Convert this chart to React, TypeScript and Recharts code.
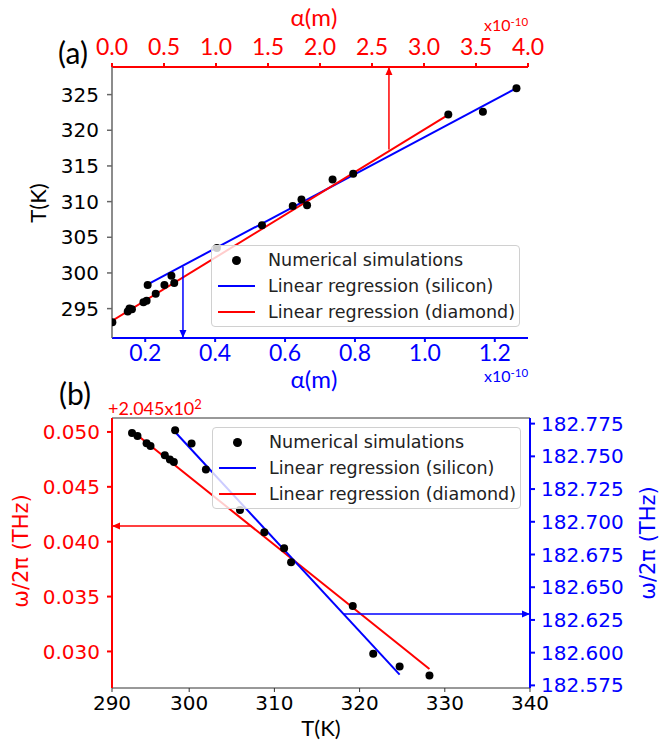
import {
  ComposedChart,
  Scatter,
  Line,
  XAxis,
  YAxis,
  Legend,
} from 'recharts'

// panel (a): alpha (x1e-10 m) vs temperature
const alphaSim = [0.106, 0.15, 0.155, 0.162, 0.195, 0.204, 0.207, 0.23, 0.255, 0.275, 0.283, 0.405, 0.534, 0.622, 0.647, 0.663, 0.736, 0.795, 1.067, 1.166, 1.262]
const tempSimA = [293.1, 294.6, 295.0, 294.9, 295.9, 296.1, 298.3, 297.1, 298.3, 299.6, 298.6, 303.5, 306.7, 309.4, 310.3, 309.5, 313.1, 313.9, 322.2, 322.6, 325.9]
const siliconFitAlpha = [0.207, 1.262]
const siliconFitTemp = [298.4, 325.9]
const diamondFitAlpha = [0.003, 3.236] // top axis
const diamondFitTemp = [293.3, 322.2]
const alphaTicksTop = [0, 0.5, 1, 1.5, 2, 2.5, 3, 3.5, 4]
const alphaTicksBottom = [0.2, 0.4, 0.6, 0.8, 1.0, 1.2]
const tempTicksA = [295, 300, 305, 310, 315, 320, 325]

// panel (b): temperature vs frequency
const tempSimB = [293.29, 293.93, 295.0, 295.46, 297.14, 297.73, 298.2, 298.35, 300.28, 301.96, 305.96, 308.82, 311.14, 311.96, 319.2, 321.6, 324.7, 328.2]
const freqSimB = [0.04991, 0.04964, 0.04897, 0.04873, 0.04788, 0.04749, 0.04727, 0.05015, 0.04895, 0.04658, 0.04288, 0.04085, 0.0394, 0.03813, 0.03415, 0.02979, 0.02864, 0.02782]
const diamondFitTempB = [293.3, 328.2]
const diamondFitFreq = [0.05009, 0.0284]
const siliconFitTempB = [298.35, 324.7]
const siliconFitFreq = [182.7686, 182.5832]
const tempTicksB = [290.94, 300, 310, 320, 330, 340]
const freqTicksLeft = [0.03, 0.035, 0.04, 0.045, 0.05]
const freqTicksRight = [182.575, 182.6, 182.625, 182.65, 182.675, 182.7, 182.725, 182.75, 182.775]

const BLUE = '#0000ff'
const RED = '#ff0000'
const DV = '"DejaVu Sans", Verdana, sans-serif'
const LT = '"Lato", sans-serif'

const pts = (xs: number[], ys: number[]) => xs.map((x, i) => ({ x, y: ys[i] }))

const arrowDot = (dir: 'up' | 'down' | 'left' | 'right', color: string) => (p: any) => {
  if (p.index !== 1) return <g key={`d${p.index}`} />
  const { cx, cy } = p
  const w = 3.5
  const l = 8
  let d = ''
  if (dir === 'up') d = `${cx},${cy} ${cx - w},${cy + l} ${cx + w},${cy + l}`
  if (dir === 'down') d = `${cx},${cy} ${cx - w},${cy - l} ${cx + w},${cy - l}`
  if (dir === 'left') d = `${cx},${cy} ${cx + l},${cy - w} ${cx + l},${cy + w}`
  if (dir === 'right') d = `${cx},${cy} ${cx - l},${cy - w} ${cx - l},${cy + w}`
  return <polygon key={`d${p.index}`} points={d} fill={color} />
}

const dotShape = (p: any) => <circle cx={p.cx} cy={p.cy} r={4} fill="#000" />

const LegendBox = () => (
  <div
    style={{
      width: 309,
      height: 82,
      boxSizing: 'border-box',
      border: '1px solid #d0d0d0',
      borderRadius: 4,
      background: 'rgba(255,255,255,0.8)',
      fontFamily: DV,
      fontSize: 17.5,
      color: '#222',
      position: 'relative',
    }}
  >
    {[
      { label: 'Numerical simulations', kind: 'dot' },
      { label: 'Linear regression (silicon)', kind: BLUE },
      { label: 'Linear regression (diamond)', kind: RED },
    ].map((r, i) => (
      <div key={r.label} style={{ position: 'absolute', left: 0, top: 14 + i * 26, width: '100%' }}>
        {r.kind === 'dot' ? (
          <div style={{ position: 'absolute', left: 20, top: -4, width: 9, height: 9, borderRadius: 5, background: '#000' }} />
        ) : (
          <div style={{ position: 'absolute', left: 6, top: -1, width: 37, height: 2, background: r.kind }} />
        )}
        <div style={{ position: 'absolute', left: 56, top: -11, lineHeight: '22px', whiteSpace: 'nowrap' }}>{r.label}</div>
      </div>
    ))}
  </div>
)

type TxtProps = { x: number; y: number; size: number; color?: string; font?: string; rotate?: boolean; children: any }
const Txt = ({ x, y, size, color = '#000', font = LT, rotate = false, children }: TxtProps) => (
  <div
    style={{
      position: 'absolute',
      left: x,
      top: y,
      transform: `translate(-50%,-50%)${rotate ? ' rotate(-90deg)' : ''}`,
      fontSize: size,
      color,
      fontFamily: font,
      whiteSpace: 'nowrap',
      lineHeight: 1,
    }}
  >
    {children}
  </div>
)

const Sup = ({ children }: { children: any }) => (
  <span style={{ fontSize: '0.72em', position: 'relative', top: '-0.45em' }}>{children}</span>
)

const App = () => {
  const simA = pts(alphaSim, tempSimA)
  const simB = pts(tempSimB, freqSimB)
  return (
    <div style={{ position: 'absolute', left: 0, top: 0, width: 659, height: 745, background: '#fff' }}>
      <div style={{ position: 'absolute', left: 0, top: 0 }}>
        <ComposedChart width={659} height={380} margin={{ top: 0, right: 131, bottom: 0, left: 0 }}>
          <XAxis
            xAxisId="top"
            orientation="top"
            type="number"
            dataKey="x"
            domain={[0, 4]}
            allowDataOverflow
            ticks={alphaTicksTop}
            interval={0}
            tickFormatter={(v: number) => v.toFixed(1)}
            height={67}
            stroke={RED}
            strokeWidth={2}
            tickSize={4}
            tickMargin={8}
            tick={{ fill: RED, fontSize: 23, fontFamily: LT }}
          />
          <XAxis
            xAxisId="bottom"
            type="number"
            dataKey="x"
            domain={[0.105, 1.295]}
            allowDataOverflow
            ticks={alphaTicksBottom}
            interval={0}
            tickFormatter={(v: number) => v.toFixed(1)}
            height={42}
            stroke={BLUE}
            strokeWidth={2}
            tickSize={4}
            tickMargin={3}
            tick={{ fill: BLUE, fontSize: 23, fontFamily: LT }}
          />
          <YAxis
            yAxisId="left"
            type="number"
            domain={[290.88, 328.87]}
            allowDataOverflow
            ticks={tempTicksA}
            interval={0}
            width={112}
            stroke="#666"
            strokeWidth={1.5}
            tickSize={5}
            tickMargin={8}
            tick={{ fill: '#000', fontSize: 20, fontFamily: DV }}
          />
          <YAxis yAxisId="frame" orientation="right" type="number" domain={[0, 1]} width={0} tick={false} tickLine={false} stroke="#666" strokeWidth={1.5} />
          <Line data={pts(siliconFitAlpha, siliconFitTemp)} dataKey="y" xAxisId="bottom" yAxisId="left" stroke={BLUE} strokeWidth={2} dot={false} activeDot={false} isAnimationActive={false} />
          <Line data={pts(diamondFitAlpha, diamondFitTemp)} dataKey="y" xAxisId="top" yAxisId="left" stroke={RED} strokeWidth={2} dot={false} activeDot={false} isAnimationActive={false} />
          <Scatter data={simA} dataKey="y" xAxisId="bottom" yAxisId="left" shape={dotShape} isAnimationActive={false} />
          <Line data={pts([2.663, 2.663], [317.3, 328.87])} dataKey="y" xAxisId="top" yAxisId="left" stroke={RED} strokeWidth={1.5} dot={arrowDot('up', RED)} activeDot={false} isAnimationActive={false} />
          <Line data={pts([0.308, 0.308], [300.9, 290.88])} dataKey="y" xAxisId="bottom" yAxisId="left" stroke={BLUE} strokeWidth={1.5} dot={arrowDot('down', BLUE)} activeDot={false} isAnimationActive={false} />
          <Legend verticalAlign="middle" layout="horizontal" content={() => <LegendBox />} wrapperStyle={{ left: 211, top: 245, width: 309 }} />
        </ComposedChart>
      </div>

      <div style={{ position: 'absolute', left: 0, top: 380 }}>
        <ComposedChart width={659} height={365} margin={{ top: 0, right: 0, bottom: 0, left: 0 }}>
          <XAxis xAxisId="frame" orientation="top" type="number" domain={[0, 1]} height={38} tick={false} tickLine={false} stroke="#333" />
          <XAxis
            xAxisId="T"
            type="number"
            dataKey="x"
            domain={[290.94, 340]}
            allowDataOverflow
            ticks={tempTicksB}
            interval={0}
            tickFormatter={(v: number) => String(Math.floor(v / 10) * 10)}
            height={57}
            stroke="#333"
            tickSize={4}
            tickMargin={4}
            tick={{ fill: '#000', fontSize: 20, fontFamily: DV }}
          />
          <YAxis
            yAxisId="left"
            type="number"
            domain={[0.02667, 0.05127]}
            allowDataOverflow
            ticks={freqTicksLeft}
            interval={0}
            tickFormatter={(v: number) => v.toFixed(3)}
            width={112}
            stroke={RED}
            strokeWidth={2}
            tickSize={5}
            tickMargin={7}
            tick={{ fill: RED, fontSize: 20, fontFamily: DV }}
          />
          <YAxis
            yAxisId="right"
            orientation="right"
            type="number"
            domain={[182.573, 182.7793]}
            allowDataOverflow
            ticks={freqTicksRight}
            interval={0}
            tickFormatter={(v: number) => v.toFixed(3)}
            width={129}
            stroke={BLUE}
            strokeWidth={2}
            tickSize={5}
            tickMargin={6}
            tick={{ fill: BLUE, fontSize: 20, fontFamily: DV }}
          />
          <Line data={pts(diamondFitTempB, diamondFitFreq)} dataKey="y" xAxisId="T" yAxisId="left" stroke={RED} strokeWidth={2} dot={false} activeDot={false} isAnimationActive={false} />
          <Line data={pts(siliconFitTempB, siliconFitFreq)} dataKey="y" xAxisId="T" yAxisId="right" stroke={BLUE} strokeWidth={2} dot={false} activeDot={false} isAnimationActive={false} />
          <Scatter data={simB} dataKey="y" xAxisId="T" yAxisId="left" shape={dotShape} isAnimationActive={false} />
          <Line data={pts([307.3, 290.94], [0.04143, 0.04143])} dataKey="y" xAxisId="T" yAxisId="left" stroke={RED} strokeWidth={1.5} dot={arrowDot('left', RED)} activeDot={false} isAnimationActive={false} />
          <Line data={pts([318.1, 340], [182.6296, 182.6296])} dataKey="y" xAxisId="T" yAxisId="right" stroke={BLUE} strokeWidth={1.5} dot={arrowDot('right', BLUE)} activeDot={false} isAnimationActive={false} />
          <Legend verticalAlign="middle" layout="horizontal" content={() => <LegendBox />} wrapperStyle={{ left: 212, top: 47, width: 309 }} />
        </ComposedChart>
      </div>

      <Txt x={314} y={17} size={24} color={RED}>α(m)</Txt>
      <Txt x={506} y={25} size={16} color={RED}>x10<Sup>-10</Sup></Txt>
      <Txt x={73} y={52} size={30}>(a)</Txt>
      <Txt x={38} y={203} size={22} rotate>T(K)</Txt>
      <Txt x={314} y={379} size={24} color={BLUE}>α(m)</Txt>
      <Txt x={506} y={376} size={16} color={BLUE}>x10<Sup>-10</Sup></Txt>
      <Txt x={75} y={393} size={30}>(b)</Txt>
      <div style={{ position: 'absolute', left: 108, top: 399, fontFamily: LT, fontSize: 18, color: RED, lineHeight: 1, whiteSpace: 'nowrap' }}>
        +2.045x10<Sup>2</Sup>
      </div>
      <Txt x={21} y={551} size={21} color={RED} font={DV} rotate>ω/2π (THz)</Txt>
      <Txt x={648} y={543} size={21} color={BLUE} font={DV} rotate>ω/2π (THz)</Txt>
      <Txt x={321} y={728} size={22}>T(K)</Txt>
    </div>
  )
}

export default App
